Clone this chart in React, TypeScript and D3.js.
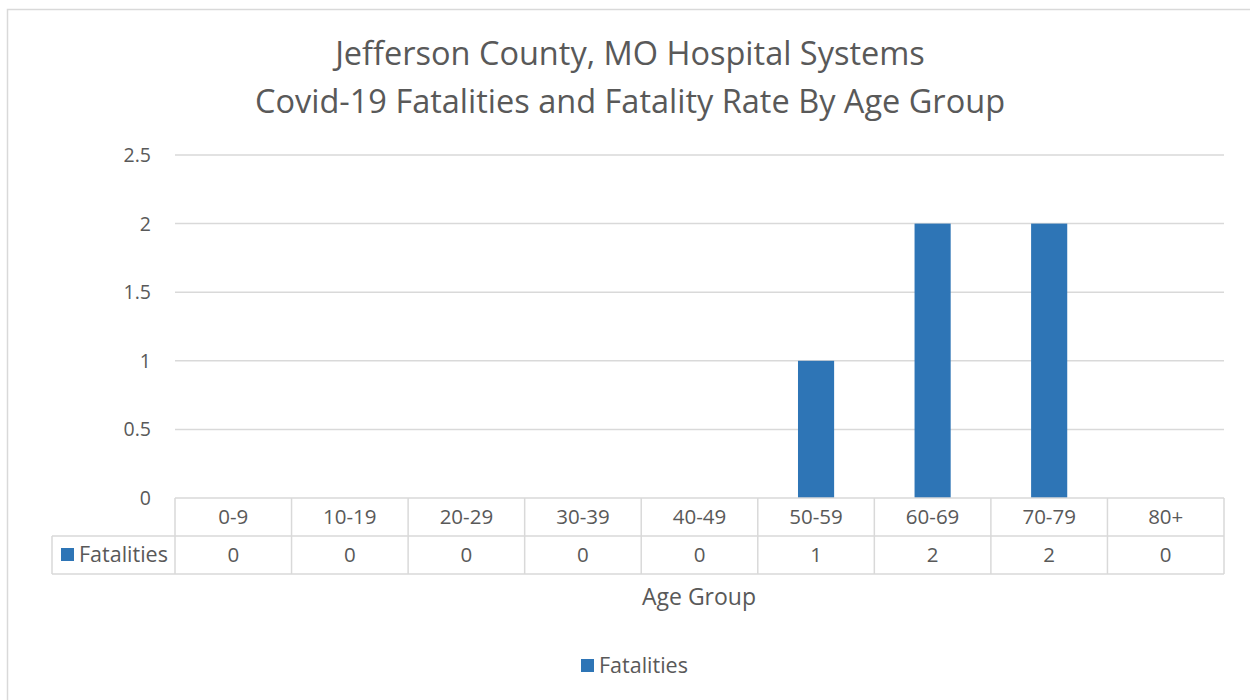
import React from "react";
import * as d3 from "d3";

const categories: string[] = ["0-9", "10-19", "20-29", "30-39", "40-49", "50-59", "60-69", "70-79", "80+"];
const fatalities: number[] = [0, 0, 0, 0, 0, 1, 2, 2, 0];
const yTicks: number[] = [0, 0.5, 1, 1.5, 2, 2.5];
const titleLines: string[] = ["Jefferson County, MO Hospital Systems", "Covid-19 Fatalities and Fatality Rate By Age Group"];
const seriesName = "Fatalities";
const xAxisTitle = "Age Group";

const W = 1250;
const H = 700;
const FONT = "'Open Sans', sans-serif";
const TXT = "#595959";
const GRID = "#d9d9d9";
const BAR = "#2E75B6";

export default function App() {
  const left = 175, right = 1224, top = 155, bottom = 498;
  const x = d3.scaleBand<string>().domain(categories).range([left, right]).paddingInner(0.69).paddingOuter(0.345);
  const xc = d3.scaleBand<string>().domain(categories).range([left, right]);
  const y = d3.scaleLinear().domain([0, 2.5]).range([bottom, top]);
  const row1 = 536, row2 = 574, tableLeft = 52;
  const fmt = (v: number) => String(v);

  return (
    <div style={{ position: "absolute", left: 0, top: 0 }}>
      <svg width={W} height={H} style={{ display: "block", fontFamily: FONT }}>
        <rect x={0} y={0} width={W} height={H} fill="#fff" />
        <rect x={7.5} y={9.5} width={W + 20} height={H + 20} fill="#fff" stroke={GRID} strokeWidth={1.5} />
        {titleLines.map((t, i) => (
          <text key={i} x={630} y={65 + i * 48} textAnchor="middle" fontSize={32.5} fill={TXT}>{t}</text>
        ))}
        {yTicks.map((t) => (
          <g key={t}>
            {t > 0 && <line x1={left} x2={right} y1={y(t)} y2={y(t)} stroke={GRID} strokeWidth={1.5} />}
            <text x={151} y={y(t) + 7} textAnchor="end" fontSize={19.5} fill={TXT}>{fmt(t)}</text>
          </g>
        ))}
        {categories.map((c, i) => (
          <rect key={c} x={x(c)!} y={y(fatalities[i])} width={x.bandwidth()} height={y(0) - y(fatalities[i])} fill={BAR} />
        ))}
        {/* data table */}
        <g stroke={GRID} strokeWidth={1.5} fill="none">
          <line x1={left} x2={right} y1={bottom} y2={bottom} />
          <line x1={tableLeft} x2={right} y1={row1} y2={row1} />
          <line x1={tableLeft} x2={right} y1={row2} y2={row2} />
          <line x1={tableLeft} x2={tableLeft} y1={row1} y2={row2} />
          {categories.map((c) => (
            <line key={c} x1={xc(c)!} x2={xc(c)!} y1={bottom} y2={row2} />
          ))}
          <line x1={right} x2={right} y1={bottom} y2={row2} />
        </g>
        {categories.map((c, i) => (
          <g key={c}>
            <text x={xc(c)! + xc.bandwidth() / 2} y={bottom + 26} textAnchor="middle" fontSize={20.5} fill={TXT}>{c}</text>
            <text x={xc(c)! + xc.bandwidth() / 2} y={row1 + 26} textAnchor="middle" fontSize={20.5} fill={TXT}>{fmt(fatalities[i])}</text>
          </g>
        ))}
        <rect x={61} y={548} width={13} height={13} fill={BAR} />
        <text x={79} y={row1 + 26} fontSize={21.5} fill={TXT}>{seriesName}</text>
        <text x={699} y={605} textAnchor="middle" fontSize={23} fill={TXT}>{xAxisTitle}</text>
        <rect x={581} y={659} width={13} height={13} fill={BAR} />
        <text x={599} y={673} fontSize={21.5} fill={TXT}>{seriesName}</text>
      </svg>
    </div>
  );
}
